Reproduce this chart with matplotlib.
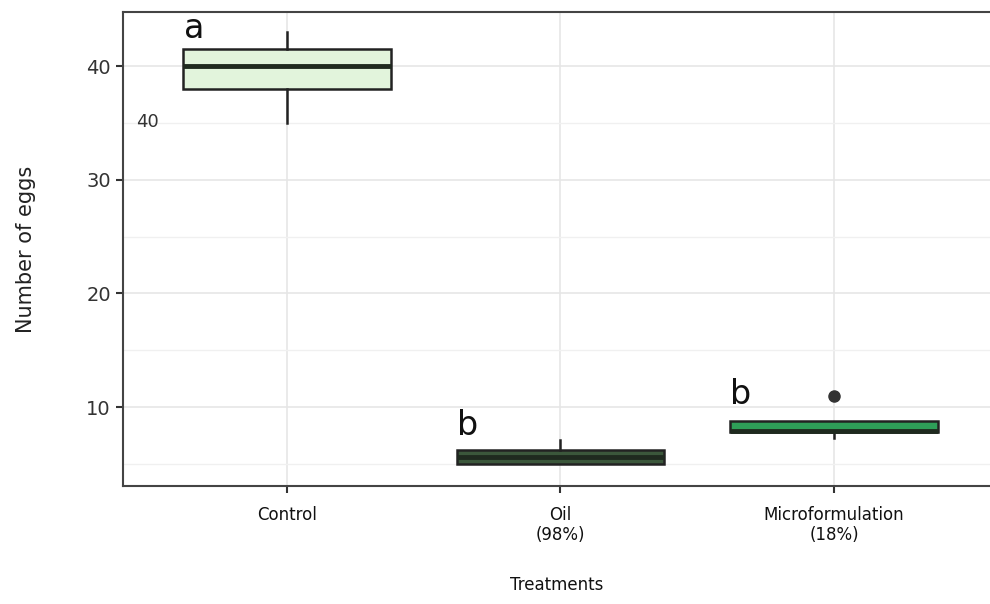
import numpy as np
import matplotlib.pyplot as plt

treatments = ['Control', 'Oil\n(98%)', 'Microformulation\n(18%)']
whisk_low = [35.0, 5.0, 7.3]
q1 = [38.0, 5.0, 7.8]
medians = [40.0, 5.6, 7.95]
q3 = [41.5, 6.2, 8.75]
whisk_high = [43.0, 7.1, 8.75]
outliers = [[], [], [11.0]]
fills = ['#e2f4dc', '#3b573b', '#2e9e58']
letters = ['a', 'b', 'b']
letter_y = [43.3, 8.4, 11.1]

fig = plt.figure(figsize=(9.9, 6.04), dpi=100)
ax = fig.add_axes([0.124, 0.195, 0.876, 0.785])

stats = []
for i in range(len(treatments)):
    stats.append(dict(med=medians[i], q1=q1[i], q3=q3[i], whislo=whisk_low[i],
                      whishi=whisk_high[i], fliers=outliers[i], label=treatments[i]))

pos = np.arange(1, len(treatments) + 1)
bp = ax.bxp(stats, positions=pos, widths=0.76, patch_artist=True, showcaps=False,
            boxprops=dict(edgecolor='#222222', linewidth=1.8),
            medianprops=dict(color='#1f2a1f', linewidth=3.5),
            whiskerprops=dict(color='#222222', linewidth=1.8),
            flierprops=dict(marker='o', markerfacecolor='#333333', markeredgecolor='#333333', markersize=8),
            zorder=3)
for patch, c in zip(bp['boxes'], fills):
    patch.set_facecolor(c)

for i in range(len(treatments)):
    ax.text(pos[i] - 0.34, letter_y[i], letters[i], fontsize=24, ha='center', va='center',
            color='#111111', zorder=4)
ax.text(0.49, 35.1, '40', fontsize=13, ha='center', va='center', color='#333333')

ax.set_xlim(0.4, 3.57)
ax.set_ylim(3.05, 44.75)
ax.set_yticks([10, 20, 30, 40])
ax.set_yticks([5, 15, 25, 35], minor=True)
ax.set_xticks(pos)
ax.set_xticklabels(treatments, fontsize=12)
ax.tick_params(axis='y', labelsize=14, colors='#333333', length=5, width=1.5)
ax.tick_params(axis='y', which='minor', length=0)
ax.tick_params(axis='x', colors='#333333', length=5, width=1.5, pad=9)
for t in ax.get_xticklabels():
    t.set_color('#111111')
ax.grid(True, which='major', color='#e6e6e6', linewidth=1.2, zorder=0)
ax.grid(True, which='minor', axis='y', color='#f0f0f0', linewidth=1.0, zorder=0)
ax.set_axisbelow(True)

for s in ['left', 'bottom', 'top']:
    ax.spines[s].set_color('#444444')
    ax.spines[s].set_linewidth(1.5)
ax.spines['right'].set_visible(False)

ax.set_ylabel('Number of eggs', fontsize=15, color='#222222', labelpad=36)
ax.set_xlabel('Treatments', fontsize=12, color='#111111', labelpad=23)

fig.savefig('out.png', dpi=100)
